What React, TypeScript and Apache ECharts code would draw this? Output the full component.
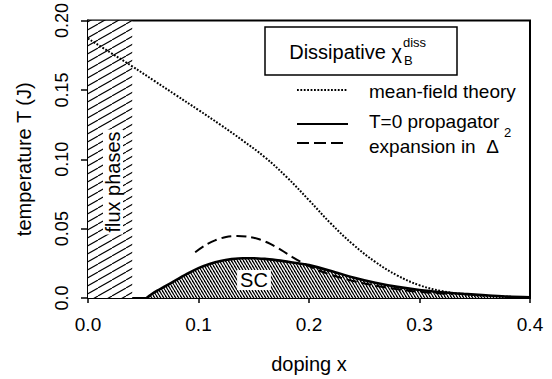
import React, { useEffect, useRef } from "react";
import * as echarts from "echarts";

// ---- data ----
const xTickLabels = ["0.0", "0.1", "0.2", "0.3", "0.4"];
const yTickLabels = ["0.0", "0.05", "0.10", "0.15", "0.20"];

// flux phases region (hatched band)
const fluxX = [0, 0.04];
const fluxTop = [0.2, 0.2];

// mean-field theory (dotted)
const mfX = [0, 0.02, 0.04, 0.06, 0.08, 0.1, 0.12, 0.14, 0.16, 0.18, 0.2, 0.22, 0.24, 0.26, 0.28, 0.3, 0.32, 0.34, 0.36, 0.38, 0.4];
const mfT = [0.187, 0.177, 0.167, 0.1565, 0.146, 0.1355, 0.1248, 0.1135, 0.1015, 0.087, 0.0705, 0.0535, 0.0385, 0.026, 0.0162, 0.0092, 0.005, 0.0028, 0.0016, 0.0009, 0.0005];

// T=0 propagator (solid, SC region)
const scX = [0.053, 0.06, 0.07, 0.08, 0.09, 0.1, 0.11, 0.12, 0.13, 0.14, 0.15, 0.16, 0.17, 0.18, 0.19, 0.2, 0.22, 0.24, 0.26, 0.28, 0.3, 0.32, 0.34, 0.36, 0.38, 0.4];
const scT = [0, 0.004, 0.0085, 0.013, 0.0175, 0.0215, 0.0245, 0.0267, 0.028, 0.0287, 0.0287, 0.0282, 0.0273, 0.0262, 0.025, 0.0237, 0.0195, 0.0148, 0.011, 0.008, 0.0058, 0.0042, 0.003, 0.002, 0.001, 0.0005];

// expansion in Delta^2 (dashed)
const exX = [0.097, 0.105, 0.115, 0.125, 0.135, 0.145, 0.155, 0.165, 0.175, 0.185, 0.195, 0.21, 0.23, 0.25, 0.27, 0.29, 0.31, 0.33];
const exT = [0.033, 0.0375, 0.0415, 0.044, 0.0447, 0.0442, 0.0423, 0.039, 0.0345, 0.0295, 0.025, 0.0195, 0.0143, 0.0105, 0.0075, 0.0053, 0.0038, 0.0027];

const FONT = "'Liberation Sans', Arial, Helvetica, sans-serif";

function makeHatch(w: number, h: number, dir: "/" | "\\", lw: number) {
  const c = document.createElement("canvas");
  c.width = w;
  c.height = h;
  const ctx = c.getContext("2d")!;
  ctx.fillStyle = "#fff";
  ctx.fillRect(0, 0, w, h);
  ctx.strokeStyle = "#000";
  ctx.lineWidth = lw;
  for (let k = -1; k <= 1; k++) {
    ctx.beginPath();
    if (dir === "/") {
      ctx.moveTo(k * w, h);
      ctx.lineTo(k * w + w, 0);
    } else {
      ctx.moveTo(k * w, 0);
      ctx.lineTo(k * w + w, h);
    }
    ctx.stroke();
  }
  return c;
}

const pair = (xs: number[], ys: number[]) => xs.map((x, i) => [x, ys[i]]);

export default function App() {
  const ref = useRef<HTMLDivElement>(null);
  useEffect(() => {
    if (!ref.current) return;
    const chart = echarts.init(ref.current, undefined, { renderer: "svg" });
    const fluxPattern = makeHatch(14, 8, "/", 1.1);
    const scPattern = makeHatch(3, 5, "\\", 1.3);
    const txt = (text: string, x: number, y: number, extra: any = {}) => ({
      type: "text",
      x,
      y,
      z: 100,
      style: {
        text,
        fill: "#000",
        fontSize: 19,
        fontFamily: FONT,
        align: "left",
        verticalAlign: "middle",
        ...extra,
      },
    });
    const graphics: any[] = [
      {
        type: "rect",
        z: 99,
        shape: { x: 265, y: 27, width: 192, height: 48 },
        style: { fill: "#fff", stroke: "#000", lineWidth: 1.5 },
      },
      txt("Dissipative \u03c7", 402, 52, { align: "right", fontSize: 20 }),
      txt("diss", 403, 42, { fontSize: 13 }),
      txt("B", 404, 60, { fontSize: 13 }),
      {
        type: "line",
        z: 100,
        shape: { x1: 297, y1: 90, x2: 348, y2: 90 },
        style: { stroke: "#000", lineWidth: 2, lineDash: [1.8, 1.6] },
      },
      {
        type: "line",
        z: 100,
        shape: { x1: 297, y1: 124, x2: 348, y2: 124 },
        style: { stroke: "#000", lineWidth: 2 },
      },
      {
        type: "line",
        z: 100,
        shape: { x1: 297, y1: 143, x2: 348, y2: 143 },
        style: { stroke: "#000", lineWidth: 2, lineDash: [12, 5] },
      },
      txt("mean-field theory", 369, 91),
      txt("T=0 propagator", 369, 121),
      txt("expansion in  \u0394", 369, 146),
      txt("2", 504, 132, { fontSize: 13 }),
      {
        ...txt("flux phases", 113, 182, {
          align: "center",
          fontSize: 20,
          backgroundColor: "#fff",
          padding: [0, 2],
        }),
        rotation: Math.PI / 2,
      },
      txt("SC", 254, 280, {
        align: "center",
        fontSize: 20,
        backgroundColor: "#fff",
        padding: [0, 3],
      }),
    ];
    chart.setOption({
      animation: false,
      backgroundColor: "#fff",
      grid: {
        left: 88,
        right: 22,
        top: 20,
        bottom: 81,
        show: true,
        borderColor: "#000",
        borderWidth: 2,
        backgroundColor: "transparent",
      },
      xAxis: {
        type: "value",
        min: 0,
        max: 0.4,
        interval: 0.1,
        splitLine: { show: false },
        axisLine: { show: true, lineStyle: { color: "#000", width: 2 } },
        axisTick: { show: true, length: 5, lineStyle: { color: "#000", width: 1.5 } },
        axisLabel: {
          color: "#000",
          fontSize: 19,
          fontFamily: FONT,
          margin: 17,
          formatter: (v: number) => xTickLabels[Math.round(v / 0.1)],
        },
        name: "doping x",
        nameLocation: "middle",
        nameGap: 56,
        nameTextStyle: { color: "#000", fontSize: 20, fontFamily: FONT },
      },
      yAxis: {
        type: "value",
        min: 0,
        max: 0.2,
        interval: 0.05,
        splitLine: { show: false },
        axisLine: { show: true, lineStyle: { color: "#000", width: 2 } },
        axisTick: { show: true, length: 7, lineStyle: { color: "#000", width: 1.5 } },
        axisLabel: {
          color: "#000",
          fontSize: 18,
          fontFamily: FONT,
          rotate: 90,
          margin: 17,
          formatter: (v: number) => yTickLabels[Math.round(v / 0.05)],
        },
        name: "temperature T (J)",
        nameLocation: "middle",
        nameGap: 54,
        nameTextStyle: { color: "#000", fontSize: 20, fontFamily: FONT },
      },
      series: [
        {
          type: "line",
          data: pair(fluxX, fluxTop),
          symbol: "none",
          silent: true,
          lineStyle: { width: 0, opacity: 0 },
          areaStyle: { color: { image: fluxPattern, repeat: "repeat" }, opacity: 1, origin: "start" },
          z: 1,
        },
        {
          type: "line",
          data: pair(scX, scT),
          symbol: "none",
          smooth: 0.3,
          silent: true,
          lineStyle: { color: "#000", width: 2.6 },
          areaStyle: { color: { image: scPattern, repeat: "repeat" }, opacity: 1, origin: "start" },
          z: 2,
        },
        {
          type: "line",
          data: pair(exX, exT),
          symbol: "none",
          smooth: 0.3,
          silent: true,
          lineStyle: { color: "#000", width: 2, type: [10, 5] },
          z: 3,
        },
        {
          type: "line",
          data: pair(mfX, mfT),
          symbol: "none",
          smooth: 0.4,
          silent: true,
          lineStyle: { color: "#000", width: 2, type: [1.8, 1.6] },
          z: 4,
        },
      ],
      graphic: graphics,
    });
    return () => chart.dispose();
  }, []);
  return (
    <div
      ref={ref}
      style={{ position: "fixed", left: 0, top: 0, width: 552, height: 379, background: "#fff" }}
    />
  );
}
